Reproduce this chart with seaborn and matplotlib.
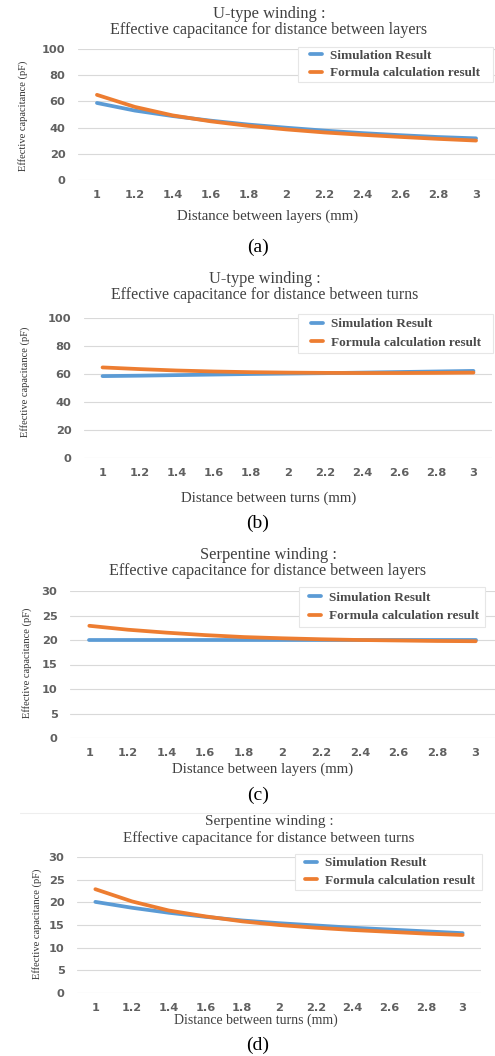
import matplotlib
matplotlib.use("Agg")
import matplotlib.pyplot as plt
import seaborn as sns
import pandas as pd
from matplotlib.lines import Line2D
from matplotlib.patches import Rectangle

sns.set_theme(style="white")
plt.rcParams['font.family'] = ['DejaVu Sans']

# ---------------- data ----------------
distance_labels = ["1", "1.2", "1.4", "1.6", "1.8", "2", "2.2", "2.4", "2.6", "2.8", "3"]

a_sim = [58.8, 53.0, 48.8, 45.3, 42.3, 39.9, 37.7, 35.8, 34.2, 32.8, 31.8]
a_formula = [65.0, 55.8, 49.3, 44.8, 41.3, 38.6, 36.3, 34.5, 32.9, 31.4, 30.1]

b_sim = [58.5, 58.8, 59.2, 59.6, 60.0, 60.3, 60.6, 61.0, 61.4, 61.8, 62.2]
b_formula = [64.7, 63.5, 62.5, 61.8, 61.3, 61.0, 60.8, 60.7, 60.7, 60.8, 61.0]

c_sim = [20.05, 20.05, 20.05, 20.05, 20.05, 20.05, 20.05, 20.05, 20.05, 20.05, 20.05]
c_formula = [22.9, 22.1, 21.5, 21.0, 20.6, 20.35, 20.15, 20.0, 19.9, 19.8, 19.75]

d_sim = [20.1, 18.8, 17.7, 16.8, 16.0, 15.4, 14.9, 14.4, 14.0, 13.6, 13.2]
d_formula = [22.9, 20.2, 18.2, 16.9, 15.8, 15.0, 14.4, 13.9, 13.5, 13.1, 12.8]

series_names = ["Simulation Result", "Formula calculation result"]
panel_titles = [
    "U-type winding :\nEffective capacitance for distance between layers",
    "U-type winding :\nEffective capacitance for distance between turns",
    "Serpentine winding :\nEffective capacitance for distance between layers",
    "Serpentine winding :\nEffective capacitance for distance between turns",
]
panel_xlabels = [
    "Distance between layers (mm)",
    "Distance between turns (mm)",
    "Distance between layers (mm)",
    "Distance between turns (mm)",
]
panel_tags = ["(a)", "(b)", "(c)", "(d)"]
y_label = "Effective capacitance (pF)"

# ---------------- layout (pixel units) ----------------
W, H = 495, 1056
fig = plt.figure(figsize=(W / 100, H / 100), dpi=100)
fig.patch.set_facecolor("white")

SERIF = "Liberation Serif"
SANS = "DejaVu Sans"
BLUE = "#5B9BD5"
ORANGE = "#ED7D31"
GRID = "#D9D9D9"
TXT = "#404040"
TICK = "#606060"


def fx(x):
    return x / W


def fy(y):
    return 1 - y / H


panels = [
    dict(sim=a_sim, form=a_formula, ax=(78, 49, 495, 180), ymax=100, ystep=20,
         t1=14, t2=30, tcx=269, tsize=11.6, xl=(268, 216), yl=(23, 116), tag=(258, 247),
         box=(298, 47, 493, 82), hx=310, xsize=10.7, lsp=0.38),
    dict(sim=b_sim, form=b_formula, ax=(84, 318, 492, 458), ymax=100, ystep=20,
         t1=279, t2=295, tcx=265, tsize=11.4, xl=(269, 498), yl=(25, 382), tag=(258, 523),
         box=(298, 314, 493, 353), hx=311, xsize=10.7, lsp=0.5),
    dict(sim=c_sim, form=c_formula, ax=(70, 591, 495, 738), ymax=30, ystep=5,
         t1=555, t2=571, tcx=268, tsize=11.6, xl=(263, 769), yl=(27, 663), tag=(258, 795),
         box=(299, 587, 485, 627), hx=309, xsize=10.7, lsp=0.45),
    dict(sim=d_sim, form=d_formula, ax=(77, 857, 481, 993), ymax=30, ystep=5,
         t1=822, t2=838, tcx=269, tsize=10.8, xl=(256, 1020), yl=(37, 924), tag=(258, 1045),
         box=(295, 854, 482, 890), hx=305, xsize=10.0, lsp=0.38),
]

for i, p in enumerate(panels):
    x0, y0, x1, y1 = p["ax"]
    ax = fig.add_axes([fx(x0), fy(y1), (x1 - x0) / W, (y1 - y0) / H])
    df = pd.DataFrame({
        "Distance": distance_labels * 2,
        "Capacitance": p["sim"] + p["form"],
        "Series": [series_names[0]] * len(distance_labels) + [series_names[1]] * len(distance_labels),
    })
    sns.lineplot(data=df, x="Distance", y="Capacitance", hue="Series",
                 palette=[BLUE, ORANGE], linewidth=2.7, ax=ax, sort=False)
    ax.set_xlim(-0.5, len(distance_labels) - 0.5)
    ax.set_ylim(0, p["ymax"])
    ax.set_yticks(range(0, p["ymax"] + 1, p["ystep"]))
    ax.grid(axis="y", color=GRID, linewidth=0.8)
    ax.grid(axis="x", visible=False)
    ax.set_axisbelow(True)
    for s in ax.spines.values():
        s.set_visible(False)
    ax.tick_params(axis="both", length=0, labelsize=8.2, labelcolor=TICK)
    ax.tick_params(axis="x", pad=7)
    ax.tick_params(axis="y", pad=9)
    for lab in ax.get_xticklabels() + ax.get_yticklabels():
        lab.set_fontfamily(SANS)
        lab.set_fontweight("bold")
    ax.set_xlabel("")
    ax.set_ylabel("")

    # legend box (drawn inside the axes so the legend sits on top of it)
    bx0, by0, bx1, by1 = p["box"]
    ax.add_patch(Rectangle((fx(bx0), fy(by1)), (bx1 - bx0) / W, (by1 - by0) / H,
                           transform=fig.transFigure, facecolor="white",
                           edgecolor="#E6E6E6", linewidth=0.8, zorder=4,
                           clip_on=False))
    leg = ax.legend(handles=[Line2D([0], [0], color=BLUE, lw=2.7),
                             Line2D([0], [0], color=ORANGE, lw=2.7)],
                    labels=series_names,
                    loc="center left",
                    bbox_to_anchor=(fx(p["hx"]), fy((by0 + by1) / 2)),
                    bbox_transform=fig.transFigure,
                    prop={"family": SERIF, "size": 9.5, "weight": "bold"},
                    handlelength=0.9, handletextpad=0.6, borderpad=0.0,
                    labelspacing=p["lsp"], frameon=False, borderaxespad=0)
    leg.set_zorder(6)
    for t in leg.get_texts():
        t.set_color("#4a4a4a")

    title_lines = panel_titles[i].split("\n")
    fig.text(fx(p["tcx"]), fy(p["t1"]), title_lines[0], ha="center", va="center",
             family=SERIF, fontsize=p["tsize"] + 0.3, color=TXT)
    fig.text(fx(p["tcx"]), fy(p["t2"]), title_lines[1], ha="center", va="center",
             family=SERIF, fontsize=p["tsize"], color=TXT)
    fig.text(fx(p["xl"][0]), fy(p["xl"][1]), panel_xlabels[i], ha="center", va="center",
             family=SERIF, fontsize=p["xsize"], color=TXT)
    fig.text(fx(p["yl"][0]), fy(p["yl"][1]), y_label, ha="center", va="center",
             rotation=90, family=SERIF, fontsize=7.6, color="#333333")
    fig.text(fx(p["tag"][0]), fy(p["tag"][1]), panel_tags[i], ha="center", va="center",
             family=SERIF, fontsize=14, color="black")

# faint separator line above panel (d)
fig.add_artist(Line2D([fx(20), fx(495)], [fy(813), fy(813)], color="#EEEEEE", lw=0.8))

fig.savefig("out.png", dpi=100, facecolor="white")
